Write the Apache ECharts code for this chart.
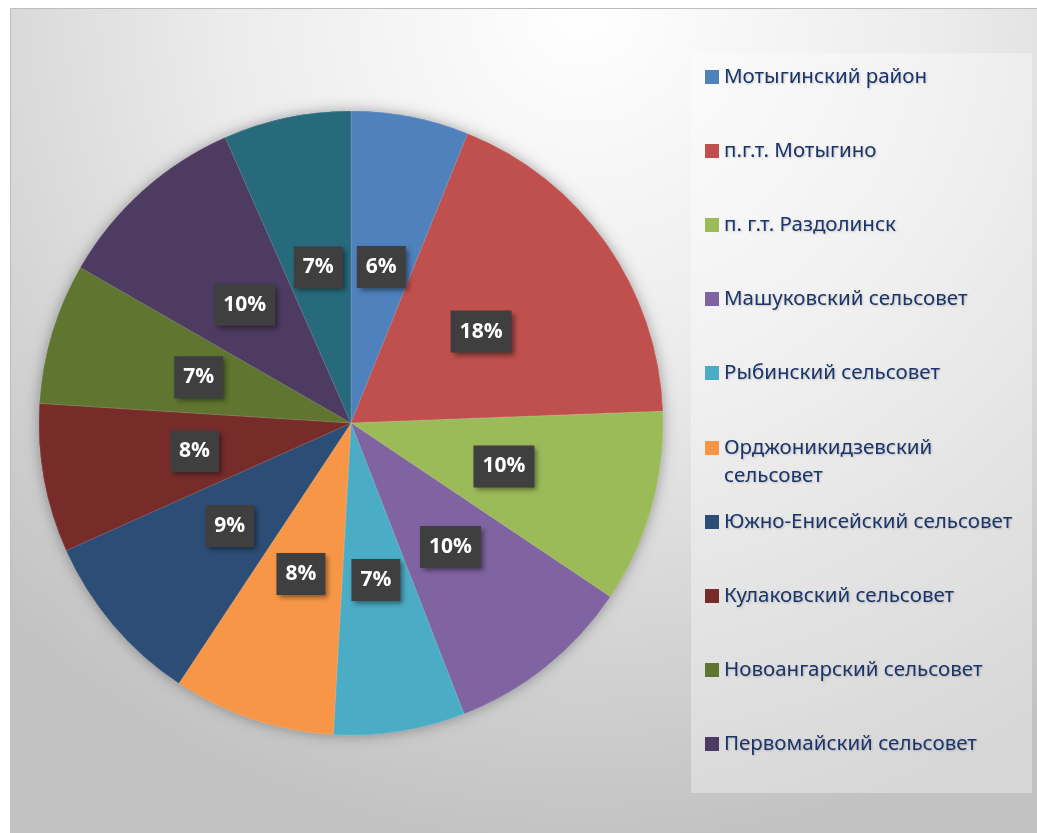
<!DOCTYPE html>
<html>
<head>
<meta charset="utf-8">
<script src="https://cdn.jsdelivr.net/npm/echarts@6/dist/echarts.min.js"></script>
<style>
html,body{margin:0;padding:0;background:#fff;}
#chart{width:1037px;height:833px;}
</style>
</head>
<body>
<div id="chart"></div>
<script>
// Data
const categories = [
  'Мотыгинский район',
  'п.г.т. Мотыгино',
  'п. г.т. Раздолинск',
  'Машуковский сельсовет',
  'Рыбинский сельсовет',
  'Орджоникидзевский сельсовет',
  'Южно-Енисейский сельсовет',
  'Кулаковский сельсовет',
  'Новоангарский сельсовет',
  'Первомайский сельсовет',
  'Партизанский сельсовет'
];
const values = [6.1, 18.3, 10.0, 9.7, 6.8, 8.4, 9.0, 7.7, 7.3, 10.1, 6.6];
const colors = ['#4F81BD', '#C0504D', '#9BBB59', '#8064A2', '#4BACC6', '#F79646',
                '#2C4D75', '#772C2A', '#5F7530', '#4D3B62', '#276A7C'];
const legendTop = categories.slice(0, 5);
const legendMid = categories.slice(5, 6);
const legendBottom = categories.slice(6, 10);

const pieData = categories.map((n, i) => ({ name: n, value: values[i] }));

const chart = echarts.init(document.getElementById('chart'), null, { renderer: 'canvas' });

const legendText = {
  fontFamily: 'Noto Sans',
  fontSize: 20.5,
  color: '#1B3469',
  lineHeight: 28,
  textShadowColor: 'rgba(0,0,0,0.18)',
  textShadowBlur: 2,
  textShadowOffsetX: 1,
  textShadowOffsetY: 1
};
const legendBase = {
  orient: 'vertical',
  left: 705,
  padding: 0,
  itemWidth: 14,
  itemHeight: 14,
  itemGap: 46,
  icon: 'rect',
  selectedMode: false,
  textStyle: legendText
};

chart.setOption({
  animation: false,
  color: colors,
  graphic: [
    {
      type: 'rect', z: -10, silent: true,
      shape: { x: 10.5, y: 8.5, width: 1040, height: 840 },
      style: {
        stroke: '#BDBDBD', lineWidth: 1,
        fill: {
          type: 'radial', x: 0.55, y: 0, r: 1.0,
          colorStops: [
            { offset: 0, color: '#ffffff' },
            { offset: 0.42, color: '#ececec' },
            { offset: 1, color: '#c2c2c2' }
          ]
        }
      }
    },
    {
      type: 'rect', z: -9, silent: true,
      shape: { x: 691, y: 53, width: 341, height: 740 },
      style: { fill: 'rgba(255,255,255,0.35)' }
    }
  ],
  legend: [
    Object.assign({}, legendBase, { top: 63, data: legendTop }),
    Object.assign({}, legendBase, {
      top: 406, data: legendMid,
      formatter: function (n) { return '\nОрджоникидзевский\nсельсовет'; }
    }),
    Object.assign({}, legendBase, { top: 508, data: legendBottom })
  ],
  series: [
    {
      type: 'pie',
      silent: true,
      center: [351, 423],
      radius: 312,
      startAngle: 90,
      clockwise: true,
      data: pieData,
      label: { show: false },
      labelLine: { show: false },
      itemStyle: {
        borderWidth: 0,
        shadowBlur: 14,
        shadowColor: 'rgba(0,0,0,0.35)'
      },
      z: 1
    },
    {
      type: 'pie',
      center: [351, 423],
      radius: 312,
      startAngle: 90,
      clockwise: true,
      data: pieData,
      itemStyle: { borderWidth: 0.5, borderColor: 'rgba(255,255,255,0.25)' },
      label: {
        show: true,
        position: 'inside',
        formatter: function (p) { return Math.round(p.percent) + '%'; },
        fontFamily: 'Open Sans',
        fontWeight: 'bold',
        fontSize: 21,
        color: '#ffffff',
        lineHeight: 27,
        backgroundColor: '#3F3F3F',
        padding: [8, 9, 7, 9],
        shadowColor: 'rgba(0,0,0,0.45)',
        shadowBlur: 5,
        shadowOffsetX: 3,
        shadowOffsetY: 3
      },
      labelLine: { show: false },
      emphasis: { disabled: true },
      z: 2
    }
  ]
});
</script>
</body>
</html>
